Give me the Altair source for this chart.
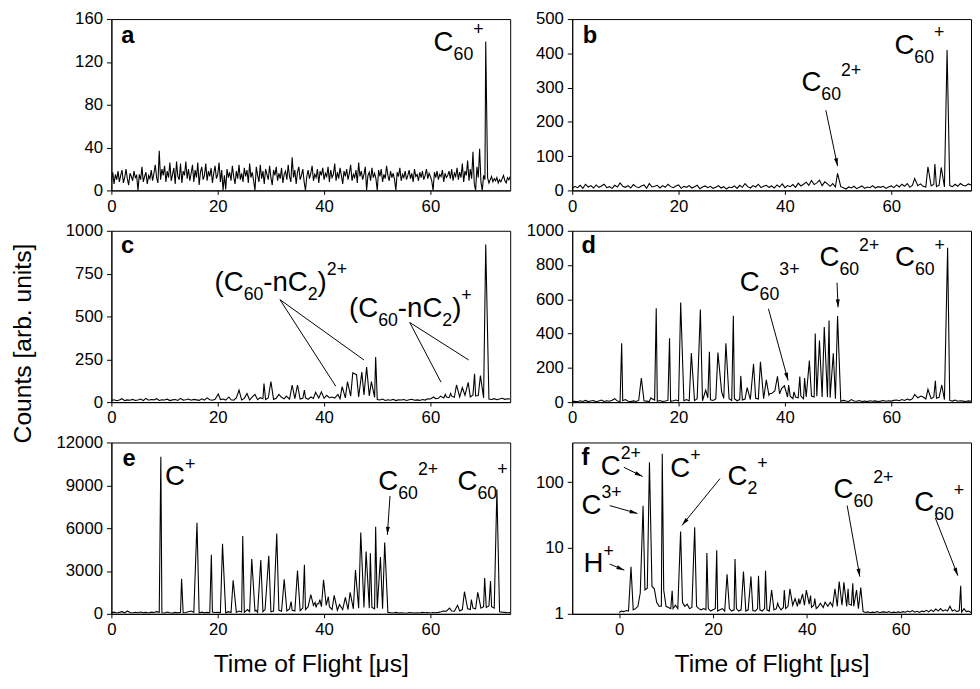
import math
import altair as alt
import pandas as pd

FONT = "Liberation Sans"
W, H = 405, 174
MAIN_FS, SMALL_FS = 28, 18
SUB_DY, SUP_DY = 9, -16
X_TICKS = [0, 20, 40, 60]
XTITLE = "Time of Flight [\u03bcs]"
YTITLE = "Counts [arb. units]"

# ---------------- panel a ----------------
A_STEP = 0.25
A_BASE = [9,17,6,15,10,18,8,14,19,7,12,20,11,5,16,13,9,18,12,14,
          0,15,10,22,8,13,17,6,14,11,19,9,16,24,12,7,37,10,20,14,
          23,8,18,12,26,9,15,21,6,27,13,10,25,7,18,14,27,11,20,9,
          16,24,8,19,12,26,5,17,22,10,14,25,9,18,13,21,7,16,23,11,
          15,26,8,19,0,14,1,20,12,17,9,23,13,6,18,11,24,10,16,8,
          21,13,19,7,25,12,17,9,0,22,14,8,24,11,18,6,20,15,10,23,
          12,5,19,14,22,9,16,11,21,7,15,18,10,24,13,8,31,12,19,6,
          17,22,10,14,20,8,0,13,19,11,16,23,9,15,12,20,7,18,14,21,
          10,16,13,22,8,19,12,15,25,9,17,11,21,14,6,18,13,20,10,16,
          24,9,15,12,19,7,26,13,18,10,15,22,0,14,17,9,21,12,16,11,
          0,19,13,20,8,15,11,23,14,9,18,12,16,10,0,17,13,21,9,15,
          12,18,10,14,19,11,16,8,20,13,15,9,17,12,18,10,14,20,11,16,
          13,9,0,17,12,18,10,15,13,19,8,16,12,14,18,11,20,9,16,13,
          21,10,17,12,25,8,18,14,28,9,20,11,36,6,0,22,12,39,8,0,
          14,10,8,12,7,10,13,8,11,9,12,7,10,8,11,14,9,7,12,10,13]
A_PEAK_T = [70.4]
A_PEAK_C = [139]
A_YTICKS = [0, 40, 80, 120, 160]

# ---------------- panel b ----------------
B_STEP = 0.5
B_BASE = [5,12,8,15,6,18,10,14,7,16,9,13,18,8,11,6,15,10,22,12,
          9,14,7,17,11,8,13,16,6,20,10,12,15,7,14,9,18,11,8,13,
          16,6,12,9,14,7,11,15,5,10,13,8,12,6,9,14,7,11,4,10,
          8,13,6,15,9,20,11,7,14,10,18,8,12,15,9,13,7,16,10,19,
          8,14,11,17,9,21,13,18,24,15,29,17,22,30,14,25,19,12,20,10,
          6,11,8,4,10,7,12,5,9,13,6,10,8,14,7,11,9,12,6,10,
          13,8,16,10,18,12,20,9,15,11,14,19,12,10,22,13,18,11,15,12,
          10,9,14,11,18,12,20,15,13,19,16]
B_PEAK_T = [49.9, 64.4, 66.9, 68.2, 69.4, 70.5]
B_PEAK_C = [50, 35, 69, 77, 67, 410]
B_YTICKS = [0, 100, 200, 300, 400, 500]

# ---------------- panel c ----------------
C_STEP = 0.5
C_BASE = [10,14,8,12,20,9,13,11,16,10,12,18,9,22,11,15,13,20,10,14,
          12,17,9,13,15,10,22,12,14,18,11,16,13,10,19,12,25,14,11,17,
          13,15,18,12,20,14,11,25,16,13,22,15,12,30,18,14,26,20,15,24,
          18,16,22,14,28,19,24,17,30,20,26,18,22,25,16,28,21,18,24,20,
          22,18,26,15,24,30,20,34,25,40,35,28,45,30,38,42,30,36,32,28,
          15,12,18,10,14,11,16,9,13,12,15,10,14,17,11,13,10,15,12,20,
          18,25,20,22,28,24,30,26,35,28,38,30,32,40,35,30,42,36,38,30,
          25,20,18,15,20,14,18,22,16,20,18]
C_PEAK_T = [20.1,22.1,24.0,25.5,27.0,28.7,30.0,31.5,32.9,34.0,35.0,36.3,37.5,38.4,39.5,
            40.5,41.5,42.6,43.4,44.4,45.4,46.1,47.1,48.0,48.9,49.7,
            60.6,61.9,62.8,63.8,64.9,66.0,67.1,68.3,69.4,70.4]
C_PEAK_C = [48,30,70,50,45,108,120,45,35,100,100,70,30,57,60,
            40,30,45,90,120,171,160,175,204,120,263,
            30,35,45,50,100,85,115,165,155,920]
C_YTICKS = [0, 250, 500, 750, 1000]

# ---------------- panel d ----------------
D_STEP = 0.5
D_BASE = [3,5,2,8,4,10,3,6,9,2,7,12,4,8,5,11,20,6,4,8,
          15,5,3,7,4,10,5,8,6,4,20,12,5,9,4,6,10,5,8,12,
          6,10,8,15,7,12,9,20,11,8,15,25,14,10,18,12,30,22,15,20,
          10,20,8,15,12,18,25,15,20,22,18,30,20,25,40,50,45,55,48,60,
          45,30,35,20,30,25,35,20,30,25,35,30,35,25,30,20,30,25,35,20,
          8,5,10,6,4,15,7,5,9,4,6,3,8,5,7,4,6,9,5,8,
          6,10,12,8,15,10,18,12,20,14,25,15,30,18,25,20,30,22,28,20,
          15,8,10,6,12,5,8,6,4,7,5]
D_PEAK_T = [9.3,13.0,14.8,15.8,18.3,20.4,22.4,24.1,25.1,25.8,27.4,28.1,28.9,30.3,31.7,
            32.9,34.1,35.4,36.5,37.2,37.7,38.1,38.6,39.4,39.9,40.7,41.7,42.8,43.7,44.6,
            45.7,46.5,47.4,48.3,49.1,49.9,64.4,65.6,66.9,68.3,69.5,70.6]
D_PEAK_C = [343,141,25,548,372,582,286,540,70,294,289,60,343,504,153,
            85,223,235,130,50,55,65,150,80,95,100,60,150,140,242,
            400,360,439,477,285,502,45,35,75,125,100,901]
D_YTICKS = [0, 200, 400, 600, 800, 1000]

# ---------------- panel e ----------------
E_STEP = 0.5
E_BASE = [80,120,60,100,150,70,200,90,60,110,80,130,70,100,60,120,90,150,100,80,
          60,130,80,50,100,70,110,60,90,150,200,100,80,60,120,70,100,80,130,90,
          100,80,120,70,150,90,110,100,200,130,100,300,150,120,200,100,250,150,300,180,
          150,200,160,250,180,300,200,350,250,200,300,220,400,300,500,350,600,450,700,500,
          300,400,500,300,350,250,350,300,400,300,450,350,500,400,550,450,500,400,450,350,
          400,300,350,150,100,80,60,100,50,80,60,40,90,70,50,80,60,100,70,90,
          60,90,80,100,150,120,180,150,200,180,250,200,300,250,350,300,400,350,450,400,
          500,450,550,500,400,250,150,120,100,80,90]
E_PEAK_T = [9.3,13.2,16.1,18.8,20.9,22.9,24.7,25.6,26.4,27.2,28.1,28.9,29.6,31.1,32.5,
            33.8,35.0,36.3,37.5,38.3,38.7,39.2,39.9,40.4,40.8,41.9,42.9,44.0,44.9,45.9,
            46.9,47.9,48.7,49.7,50.6,51.4,62.4,63.6,65.1,66.4,67.7,68.9,70.2,71.3,72.5]
E_PEAK_C = [11000,2460,6370,4140,4900,2350,5450,300,3840,250,3770,300,4070,5630,2410,
            850,3030,3430,1350,800,700,1000,2390,600,1200,1300,650,1150,1500,3060,
            5700,4370,4250,6090,3980,4990,200,400,600,1550,1000,1500,2500,2300,8700]
E_YTICKS = [0, 3000, 6000, 9000, 12000]

# ---------------- panel f (log) ----------------
F_STEP = 0.5
F_BASE = [1.05,1.1,1.08,1.12,1.1,1.2,1.15,1.2,1.3,2.07,1.8,2.3,2.45,1.5,2.6,2.4,1.5,1.3,1.3,2.3,
          1.3,1.25,1.2,1.2,1.35,1.2,1.3,1.5,1.3,1.4,1.2,1.25,1.3,1.3,1.2,1.15,1.2,1.15,1.2,1.1,
          1.15,1.2,1.1,1.15,1.2,1.1,1.15,1.2,1.1,1.15,1.2,1.1,1.15,1.2,1.1,1.15,1.2,1.12,1.1,1.2,
          1.15,1.1,1.2,1.15,1.1,1.25,1.15,1.2,1.3,1.15,1.25,1.2,1.3,1.2,1.35,1.25,1.3,1.4,1.3,1.35,
          1.3,1.4,1.25,1.35,1.2,1.3,1.15,1.25,1.2,1.3,1.15,1.3,1.4,1.3,1.5,1.35,1.45,1.3,1.4,1.35,
          1.3,1.4,1.2,1.35,1.08,1.05,1.07,1.04,1.06,1.05,1.08,1.04,1.06,1.07,1.05,1.08,1.04,1.06,1.05,1.07,
          1.05,1.08,1.06,1.1,1.07,1.12,1.06,1.09,1.05,1.1,1.08,1.13,1.07,1.15,1.08,1.18,1.1,1.2,1.1,1.15,
          1.1,1.3,1.1,1.15,1.08,1.12,1.06,1.2,1.08,1.1,1.05]
F_PEAK_T = [2.53,5.1,6.46,9.19,11.3,13.1,16.1,18.7,20.8,23.0,24.7,26.5,28.1,29.7,31.2,
            32.5,33.8,35.2,36.4,37.5,38.3,39.1,39.9,40.8,41.7,42.9,43.9,45.0,46.0,46.9,
            47.9,48.8,49.8,50.6,51.5,72.8]
F_PEAK_C = [5.2,43.6,200,270,2.24,17.8,20.6,8.4,9.2,4.0,6.8,4.4,3.7,3.8,4.5,
            2.3,1.45,2.3,2.4,1.7,1.7,2.0,2.3,1.9,1.7,1.45,1.5,1.5,2.4,3.1,
            3.0,2.4,2.9,2.3,2.5,2.66]
F_YTICKS = [1, 10, 100]

# ---------------- annotations ----------------
C60_P = [("C", "m"), ("60", "b"), ("+", "p")]
C60_2P = [("C", "m"), ("60", "b"), ("2+", "p")]
C60_3P = [("C", "m"), ("60", "b"), ("3+", "p")]
FRAG_2P = [("(C", "m"), ("60", "b"), ("-nC", "m"), ("2", "b"), (")", "m"), ("2+", "p")]
FRAG_P = [("(C", "m"), ("60", "b"), ("-nC", "m"), ("2", "b"), (")", "m"), ("+", "p")]

LETTERS = {"a": (1.85, 138), "b": (2.0, 430), "c": (1.8, 873),
           "d": (1.73, 869), "e": (2.1, 10366), "f": (-8.0, 179)}

LABELS = {
    "a": [(60.6, 130, C60_P)],
    "b": [(60.6, 399, C60_P), (43.1, 289, C60_2P)],
    "c": [(19.4, 650, FRAG_2P), (44.7, 497, FRAG_P)],
    "d": [(31.5, 650, C60_3P), (46.5, 792, C60_2P), (60.7, 792, C60_P)],
    "e": [(10.1, 8990, [("C", "m"), ("+", "p")]), (50.2, 8640, C60_2P), (65.1, 8640, C60_P)],
    "f": [(-3.9, 128, [("C", "m"), ("2+", "p")]),
          (-8.0, 33, [("C", "m"), ("3+", "p")]),
          (-7.6, 4.26, [("H", "m"), ("+", "p")]),
          (10.9, 120, [("C", "m"), ("+", "p")]),
          (23.1, 89.9, [("C", "m"), ("2", "b"), ("+", "p")]),
          (45.7, 56.8, C60_2P),
          (62.9, 35.9, C60_P)],
}

# (x1, y1, x2, y2, arrowhead)
ARROWS = {
    "a": [],
    "b": [(47.7, 234, 49.9, 71, True)],
    "c": [(31.7, 598, 42.2, 93, False), (31.7, 598, 47.5, 246, False),
          (56.1, 465, 62.0, 116, False), (56.1, 465, 67.2, 246, False)],
    "d": [(36.9, 545, 40.6, 126, True), (49.8, 697, 50.0, 554, True)],
    "e": [(52.4, 8256, 51.9, 5538, True)],
    "f": [(1.0, 168, 5.0, 122, True), (-2.0, 44, 3.9, 33.5, True),
          (-2.0, 5.7, 1.1, 4.6, True), (21.5, 113, 13.4, 22.1, True),
          (48.6, 44.2, 51.3, 3.67, True), (67.4, 28.5, 72.2, 3.8, True)],
}

EM = {"C": 0.722, "H": 0.722, "(": 0.333, ")": 0.333, "-": 0.333, "n": 0.556, "+": 0.584}


def text_width(txt, fs):
    return sum(EM.get(ch, 0.556) for ch in txt) * fs


def build_trace(step, base, pt, pc, start=0.0):
    pts = []
    for i, v in enumerate(base):
        x = round(start + i * step, 3)
        if all(abs(x - p) > 0.12 for p in pt):
            pts.append((x, v))
    pts += list(zip(pt, pc))
    pts.sort()
    return pd.DataFrame(pts, columns=["t", "c"])


def make_panel(key, df, xdom, ydom, yticks, ylog, yext, xtitle):
    xsc = alt.Scale(domain=xdom, nice=False, zero=False)
    if ylog:
        ysc = alt.Scale(type="log", domain=ydom, nice=False)
    else:
        ysc = alt.Scale(domain=ydom, nice=False, zero=False)
    yax = alt.Axis(values=yticks, format="d", title=None, minExtent=yext, maxExtent=yext)
    xax = alt.Axis(values=X_TICKS, format="d", title=xtitle, labelFlush=False)

    pxu = W / (xdom[1] - xdom[0])

    def ypix(v):
        if ylog:
            return math.log10(v / ydom[0]) / math.log10(ydom[1] / ydom[0]) * H
        return (v - ydom[0]) / (ydom[1] - ydom[0]) * H

    def X(f):
        return alt.X(f, type="quantitative", scale=xsc, axis=xax)

    def Y(f):
        return alt.Y(f, type="quantitative", scale=ysc, axis=yax)

    layers = [alt.Chart(df).mark_line(color="black", strokeWidth=1.1, clip=True)
              .encode(x=X("t"), y=Y("c"))]

    lx, ly = LETTERS[key]
    layers.append(alt.Chart(pd.DataFrame([{"x": lx, "y": ly, "s": key}]))
                  .mark_text(font=FONT, fontSize=24, fontWeight="bold", align="left",
                             baseline="alphabetic", color="black")
                  .encode(x=X("x"), y=Y("y"), text="s:N"))

    rows = {"m": [], "b": [], "p": []}
    for x0, y0, parts in LABELS[key]:
        x = x0
        for txt, kind in parts:
            fs = MAIN_FS if kind == "m" else SMALL_FS
            rows[kind].append({"x": x, "y": y0, "s": txt})
            x += text_width(txt, fs) / pxu
    for kind, fs, dy in (("m", MAIN_FS, 0), ("b", SMALL_FS, SUB_DY), ("p", SMALL_FS, SUP_DY)):
        if rows[kind]:
            layers.append(alt.Chart(pd.DataFrame(rows[kind]))
                          .mark_text(font=FONT, fontSize=fs, align="left", baseline="alphabetic",
                                     dy=dy, color="black")
                          .encode(x=X("x"), y=Y("y"), text="s:N"))

    arr = ARROWS[key]
    if arr:
        adf = pd.DataFrame([{"x1": a[0], "y1": a[1], "x2": a[2], "y2": a[3]} for a in arr])
        layers.append(alt.Chart(adf).mark_rule(color="black", strokeWidth=1)
                      .encode(x=X("x1"), y=Y("y1"), x2=alt.X2("x2"), y2=alt.Y2("y2")))
        heads = []
        for a in arr:
            if a[4]:
                dx = (a[2] - a[0]) * pxu
                dyu = ypix(a[3]) - ypix(a[1])
                ang = math.degrees(math.atan2(dx, dyu)) % 360
                heads.append({"x2": a[2], "y2": a[3], "ang": ang})
        if heads:
            layers.append(alt.Chart(pd.DataFrame(heads))
                          .mark_point(shape="M0,0L0.5,2L-0.5,2Z", filled=True, size=64,
                                      color="black", opacity=1)
                          .encode(x=X("x2"), y=Y("y2"), angle=alt.Angle("ang:Q", scale=None)))

    return alt.layer(*layers).properties(width=W, height=H)


pa = make_panel("a", build_trace(A_STEP, A_BASE, A_PEAK_T, A_PEAK_C), [0, 75], [0, 160], A_YTICKS, False, 57, None)
pb = make_panel("b", build_trace(B_STEP, B_BASE, B_PEAK_T, B_PEAK_C), [0, 75], [0, 500], B_YTICKS, False, 47, None)
pc = make_panel("c", build_trace(C_STEP, C_BASE, C_PEAK_T, C_PEAK_C), [0, 75], [0, 1000], C_YTICKS, False, 57, None)
pdd = make_panel("d", build_trace(D_STEP, D_BASE, D_PEAK_T, D_PEAK_C), [0, 75], [0, 1000], D_YTICKS, False, 47, None)
pe = make_panel("e", build_trace(E_STEP, E_BASE, E_PEAK_T, E_PEAK_C), [0, 75], [0, 12000], E_YTICKS, False, 57, XTITLE)
pf = make_panel("f", build_trace(F_STEP, F_BASE, F_PEAK_T, F_PEAK_C), [-10, 75], [1, 400], F_YTICKS, True, 47, XTITLE)

chart = alt.concat(pa, pb, pc, pdd, pe, pf, columns=2, align="each",
                   spacing={"row": 6, "column": 14}).properties(
    title=alt.TitleParams(text=YTITLE, orient="left", anchor="middle", fontSize=25,
                          font=FONT, fontWeight="normal", color="black", offset=19),
    padding={"left": 3, "top": -4, "right": 0, "bottom": 0},
).configure_axis(
    labelFont=FONT, labelFontSize=17, labelColor="black",
    titleFont=FONT, titleFontSize=25, titleFontWeight="normal", titleColor="black",
    domainColor="black", tickColor="black", grid=False,
).configure_axisX(
    tickSize=4, labelPadding=4, titlePadding=15,
).configure_axisY(
    tickSize=5, labelPadding=4,
).configure_view(stroke="black", strokeWidth=1)

chart.save("out.html", embed_options={"renderer": "svg", "actions": False})
